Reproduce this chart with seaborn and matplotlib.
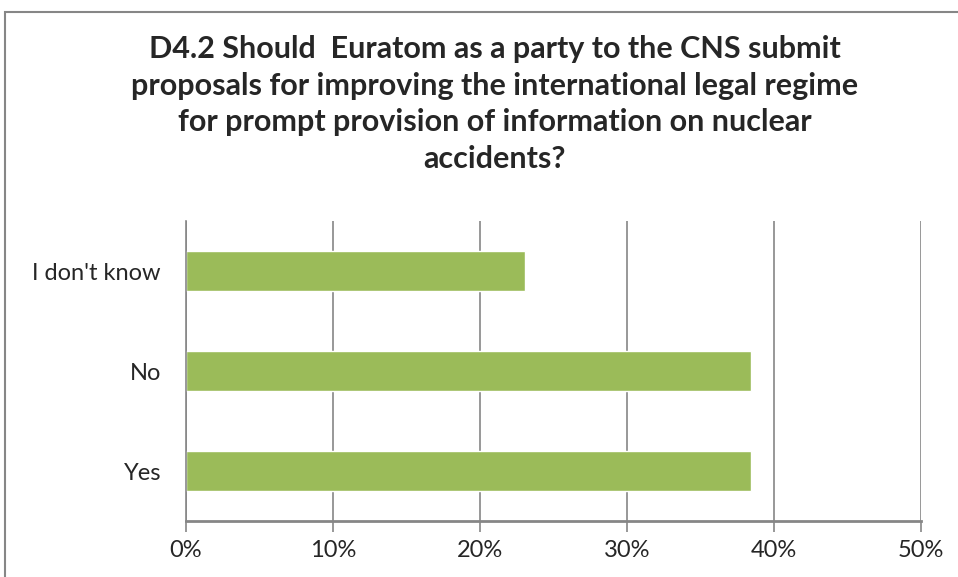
import numpy as np
import pandas as pd
import seaborn as sns
import matplotlib.pyplot as plt
from matplotlib.patches import Rectangle
from matplotlib.ticker import PercentFormatter

categories = ["I don't know", "No", "Yes"]
shares = [23.08, 38.46, 38.46]
ticks = [0, 10, 20, 30, 40, 50]

title = ("D4.2 Should  Euratom as a party to the CNS submit\n"
         "proposals for improving the international legal regime\n"
         "for prompt provision of information on nuclear\n"
         "accidents?")

sns.set_style("white")
plt.rcParams["font.family"] = ["Lato", "DejaVu Sans"]

data = pd.DataFrame({"answer": categories, "share": shares})

fig = plt.figure(figsize=(9.58, 5.77), dpi=100)
ax = fig.add_axes([186 / 958, 1 - 521 / 577, 735 / 958, 300 / 577])

sns.barplot(data=data, x="share", y="answer", color="#9BBB59", saturation=1,
            width=0.4, orient="h", ax=ax)

ax.set_xlim(0, 50)
ax.set_ylim(2.5, -0.5)
ax.set_xticks(ticks)
ax.xaxis.set_major_formatter(PercentFormatter(decimals=0))
ax.set_xlabel("")
ax.set_ylabel("")
ax.grid(axis="x", color="#868686", linewidth=1.2)
ax.set_axisbelow(True)
for side in ["top", "right"]:
    ax.spines[side].set_visible(False)
ax.spines["left"].set_color("#868686")
ax.spines["left"].set_linewidth(1.2)
ax.spines["bottom"].set_color("#868686")
ax.spines["bottom"].set_linewidth(2)
ax.tick_params(axis="x", length=8, width=1.2, color="#868686", bottom=True,
               labelsize=17, pad=6)
ax.tick_params(axis="y", length=0, labelsize=17, pad=18)

fig.text(495 / 958, 1 - 35 / 577, title, ha="center", va="top",
         fontsize=22, fontweight="bold", linespacing=1.38)

fig.patches.append(Rectangle((5 / 958, -0.05), 1.1, 1 - 12 / 577 + 0.05,
                             transform=fig.transFigure, fill=False,
                             edgecolor="#868686", linewidth=1.5))

fig.savefig("out.png", dpi=100)
